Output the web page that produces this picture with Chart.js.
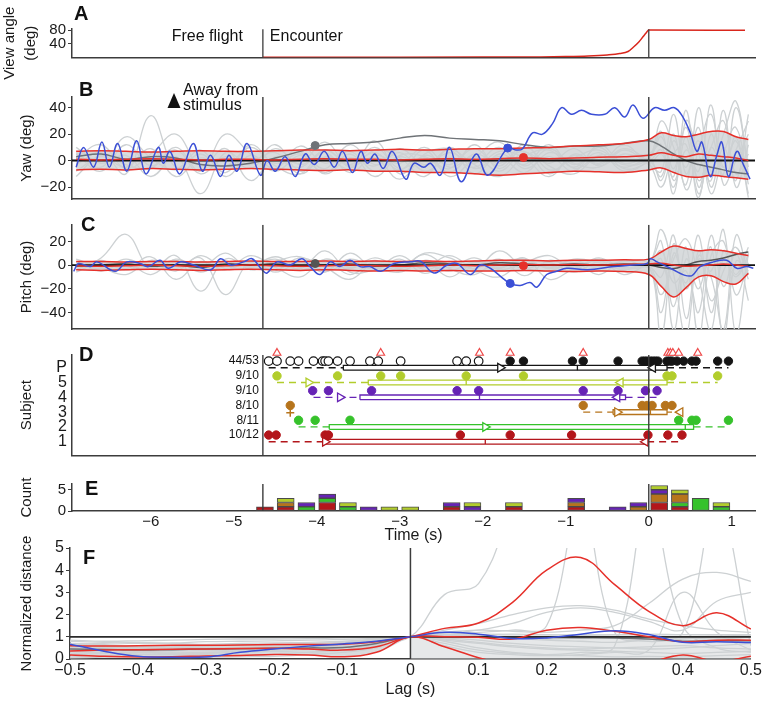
<!DOCTYPE html>
<html>
<head>
<meta charset="utf-8">
<title>Yaw and pitch around the encounter</title>
<script src="https://cdn.jsdelivr.net/npm/chart.js@4.4.1/dist/chart.umd.min.js"></script>
<style>
  html, body { margin: 0; padding: 0; background: #fff; }
  #fig { position: relative; width: 764px; height: 702px; overflow: hidden; }
  #fig canvas { position: absolute; left: 0; }
</style>
</head>
<body>
<div id="fig">
  <canvas id="panelA" width="764" height="80" style="top:0px"></canvas>
  <canvas id="panelB" width="764" height="135" style="top:75px"></canvas>
  <canvas id="panelC" width="764" height="130" style="top:210px"></canvas>
  <canvas id="panelD" width="764" height="130" style="top:340px"></canvas>
  <canvas id="panelE" width="764" height="75" style="top:470px"></canvas>
  <canvas id="panelF" width="764" height="172" style="top:530px"></canvas>
</div>
<script>
// ---- shared time axis (panels A-E)
var tMin = -6.95, tMax = 1.28;
var encounterT = -4.65;

// ---- A: view angle of the stimulus
var viewT   = [-4.65, -3, -2, -1.3, -1.0, -0.73, -0.5, -0.35, -0.25, -0.18, -0.12, -0.07, -0.03, 0, 1.16];
var viewDeg = [0, 0.3, 0.6, 1, 2, 3.8, 7, 11, 17, 31, 45, 60, 72, 80, 79];

// ---- B/C: common sample times for the gray and summary traces
var gridT = [-6.9,-6.6,-6.3,-6.0,-5.7,-5.4,-5.1,-4.8,-4.5,-4.2,-3.9,-3.6,-3.3,-3.0,-2.7,-2.4,-2.1,-1.8,-1.5,-1.2,-0.9,-0.6,-0.3,0,0.15,0.3,0.45,0.6,0.75,0.9,1.05,1.2];

// B: yaw (deg)
var yawGray1  = [5,-8,12,-4,8,-10,3,-6,9,-3,6,-9,4,-2,10,-5,3,-8,6,-2,9,-4,5,2,18,-6,25,-15,10,30,-10,5];
var yawGray2  = [-3,6,-10,34,-5,8,-12,4,-6,11,-2,7,-8,3,-4,8,-10,5,-3,12,-6,3,-5,0,-12,20,-22,8,35,-5,15,-25];
var yawGray3  = [10,-2,4,-12,3,-25,6,-3,12,-8,2,-6,15,-10,4,-3,9,-4,12,-7,2,8,-3,2,30,10,-18,40,-8,20,45,-10];
var yawGray4  = [null,null,null,null,null,null,null,null,2,-5,8,-3,10,-6,2,-9,5,-2,7,-10,4,-3,9,-2,-20,5,12,-28,20,-12,8,30];
var yawGray5  = [-8,3,-5,9,-12,2,-4,10,-2,5,-10,2,-4,9,-3,6,-2,10,-6,3,-8,12,-2,5,12,-25,30,5,-15,38,-20,12];
var yawGray6  = [2,12,-6,5,20,-4,9,-15,3,-2,14,-5,8,2,-12,10,-6,3,-9,6,-2,-5,8,-3,-8,35,-10,15,-25,5,25,-18];
var yawGray7  = [null,null,null,null,null,null,null,-2,6,-10,3,-3,6,-7,8,-12,2,14,-4,9,-3,6,-8,1,22,-15,8,-8,42,-18,0,20];
var yawGray8  = [-12,4,-3,-6,10,-8,20,5,-8,4,-6,12,-3,6,-8,2,-5,7,2,-12,5,-2,12,-2,5,-12,38,-20,10,-5,18,-28];
var yawGray9  = [null,null,null,null,null,null,null,null,null,7,-9,5,-12,4,3,-6,12,-6,10,-4,-10,4,3,3,-15,15,-5,25,-20,10,-15,35];
var yawGray10 = [6,-5,18,2,-7,5,-9,12,-4,-10,8,-4,2,-14,5,9,-3,-12,3,8,-5,10,-6,-1,8,-20,18,-25,5,-10,40,-5];
var yawRedHi  = [7,7.5,7,6.5,7,7.5,7,7,7.5,8,8,7.5,8,8.5,8,8.5,9,9,9.5,10,11,12,13,16,21,19,18,20,22,22,18,16];
var yawRedMid = [1,0.5,1,1.5,1,0.5,1,1,0.5,1,1.5,1,1,0.5,1,1.5,1,1.5,2,1.5,2,2.5,3,4,6,4,3,5,4,3,2,0];
var yawRedLo  = [-7,-6.5,-7,-6,-6.5,-7,-6.5,-6,-6.5,-7,-7.5,-7,-8,-8,-9,-9,-10,-11,-10,-9,-8,-8.5,-9,-7,-5.5,-9,-12,-12.5,-11,-12,-13,-14];
var yawDark   = [3,5,1,3,2,-3,-4,-2,2,7,12,13,14,17,19,17,16,15,12,10,11,11,13,15,11,5,0,-3,-5,-7,-9,-10];
var yawBlueT  = [-6.9,-6.81,-6.69,-6.59,-6.5,-6.4,-6.29,-6.17,-6.06,-5.91,-5.85,-5.77,-5.65,-5.49,-5.38,-5.28,-5.16,-5.06,-4.96,-4.84,-4.68,-4.6,-4.5,-4.38,-4.26,-4.14,-4.03,-3.91,-3.79,-3.69,-3.57,-3.47,-3.39,-3.3,
                 -3.2,-3.09,-2.93,-2.83,-2.71,-2.63,-2.51,-2.4,-2.26,-2.08,-1.94,-1.7,-1.6,-1.52,-1.4,-1.28,-1.16,-1.05,-0.93,-0.81,-0.69,-0.53,-0.41,-0.29,-0.19,-0.07,
                 0.07,0.19,0.31,0.41,0.5,0.58,0.64,0.74,0.82,0.88,0.96,1.06,1.14,1.22];
var yawBlue   = [-5,10,-5,14,-5,13,-8,15,-10,10,-2,7,-10,13,-8,4,-12,4,-8,13,-11,0,-8,3,-12,5,-3,7,-5,7,-9,7,-2,5,
                 -6,7,-14,-2,-5,-2,-11,10,-16,5,-11,9.5,8,9,21,20,28,40,35,38,35,35,40,33,42,32,
                 40,38,40,33,21,7,14,-12,4,14,-12,7,-3,-14];
var yawMarkT  = [-4.02, -1.70, -1.51];
var yawMarkV  = [11.4, 9.5, 2.4];

// C: pitch (deg)
var pitchGray1 = [2,-3,5,-2,4,-6,3,-1,5,-4,2,-3,6,-2,1,-5,3,-2,4,-3,2,-1,3,0,-60,10,-15,25,-40,5,-10,8];
var pitchGray2 = [-4,6,26,-3,8,-22,5,-2,3,7,-5,2,-3,8,-4,3,-6,2,5,-2,4,-3,1,2,20,-55,5,-20,15,-60,3,-5];
var pitchGray3 = [5,-2,-8,4,-3,6,-25,3,-6,2,-4,5,-2,-6,4,-2,6,-4,2,8,-3,5,-2,-1,-10,25,-45,8,-5,30,-58,10];
var pitchGray4 = [null,null,null,null,null,null,null,-3,7,-2,4,-8,3,-2,9,-3,-8,4,-3,2,-6,3,-2,1,30,-8,-60,12,-30,-5,15,-12];
var pitchGray5 = [-2,4,-3,7,-12,3,-4,8,-2,-10,5,-2,4,-3,10,6,-3,12,-2,-5,2,-8,4,-2,5,-35,15,-60,8,20,-25,2];
var pitchGray6 = [3,-5,2,-8,5,-2,10,-4,2,-3,12,-6,-4,3,-2,8,-4,-10,3,-2,5,2,-4,0,-25,5,22,-10,-55,12,-8,15];
var pitchGray7 = [null,null,null,null,null,null,null,null,-5,3,-6,10,-3,5,-7,2,-3,5,-9,4,-2,6,-3,1,12,-15,-5,-40,25,-18,10,-30];
var pitchGray8 = [-6,2,-4,3,-5,8,-3,2,-4,6,-2,-12,2,-5,3,-10,2,-3,6,-12,-3,4,-8,-2,-40,18,-20,5,-10,-55,25,-8];
var pitchRedHi  = [3,3,2.5,3,3,2.5,3,3.5,3,3,3.5,3,3.5,3,3.5,3,3.5,4,4,3.5,4,4,4.5,5,11,16,14,12,13,12,10,8];
var pitchRedMid = [-0.5,-1,-0.5,0,-0.5,-1,-0.5,0,-0.5,-1,-0.5,0,-0.5,-1,-0.5,0,-0.5,0,0.5,0,0.5,0,0.5,1,1.5,0,-1,-0.5,0,1,0,-1];
var pitchRedLo  = [-4,-4.5,-4,-3.5,-4,-4.5,-4,-3.5,-4,-4.5,-4,-4.5,-5,-4.5,-5,-4.5,-5,-5,-4.5,-5,-5.5,-5,-5.5,-8,-18,-27,-19,-10,-9,-14,-16,-7];
var pitchDark   = [-1,0,1,-1,0,-2,1,0,1,-1,0,1,-1,0,2,1,0,2,1,0,1,0,1,0,-2,-3,0,3,4,6,9,11];
var pitchBlueT  = [-6.93,-6.87,-6.73,-6.65,-6.43,-6.29,-6.13,-6.03,-5.89,-5.79,-5.64,-5.48,-5.28,-5.16,-5.04,-4.88,-4.78,-4.66,-4.6,-4.48,-4.32,-4.18,-4.08,-3.96,-3.84,-3.72,-3.6,-3.48,-3.36,
                   -3.23,-3.07,-2.87,-2.75,-2.59,-2.43,-2.31,-2.15,-2.03,-1.91,-1.79,-1.67,-1.55,-1.43,-1.35,-1.23,-1.11,-0.99,-0.74,-0.42,-0.18,-0.02,
                   0.02,0.1,0.26,0.5,0.62,0.78,0.94,1.06,1.18,1.26];
var pitchBlue   = [-5.3,1.3,-1.3,2.7,-5.3,2.7,1.3,-1.3,4,-2.7,2.7,0,-4,5.3,0,2.7,5.3,-4,-6.7,2.7,0,5.3,-1.3,-8,2.7,-1.3,4,-1.3,-1.3,
                   -5.3,1.3,2.7,3.2,-6.7,0,1.3,-8,0,-2.7,-9.3,-15.5,-17.3,-14.7,-18.7,-8,-5.3,-2.7,-4,-1.3,0,1.3,
                   5.3,2.7,-2.7,-9.3,-1.3,2.7,4,-2.7,-1.3,-2.7];
var pitchMarkT = [-4.02, -1.67, -1.51];
var pitchMarkV = [1.3, -15.5, -0.5];

// ---- D: response times per subject (s), box = [low, q1, median, q3, high]
var rowNames  = ['1', '2', '3', '4', '5', 'P'];
var rowCounts = ['10/12', '8/11', '8/10', '9/10', '9/10', '44/53'];
var s1Events = [-4.58,-4.49,-3.90,-3.86,-2.27,-1.67,-0.93,-0.01,0.23,0.40];
var s1Box    = [-4.58,-3.90,-1.97,-0.02,0.40];
var s1Means  = [-3.90,-0.04];
var s2Events = [-4.22,-4.02,-3.60,0.36,0.52,0.57,0.96];
var s2Box    = [-4.22,-3.85,0.44,0.54,0.96];
var s2Means  = [-1.97,null];
var s3Events = [-4.32,-0.79,-0.08,-0.02,0.04,0.20,0.28];
var s3Box    = [-0.79,-0.43,0.02,0.22,0.28];
var s3Means  = [-0.38,0.38];
var s3Outlier = [-4.32];
var s4Events = [-4.05,-3.86,-3.34,-2.31,-2.05,-0.79,-0.37,-0.04,0.10];
var s4Box    = [-4.04,-3.48,-2.04,-0.28,0.10];
var s4Means  = [-3.72,-0.38];
var s5Events = [-4.48,-3.75,-3.23,-2.99,-2.20,-1.51,0.22,0.28,0.83];
var s5Box    = [-4.48,-3.38,-2.20,0.22,0.83];
var s5Means  = [-4.10,-0.34];
var pOpen    = [-4.58,-4.48,-4.32,-4.22,-4.04,-3.93,-3.90,-3.86,-3.75,-3.60,-3.36,-3.26,-2.99,-2.31,-2.20,-2.05];
var pFilled  = [-1.67,-1.51,-0.92,-0.79,-0.37,-0.08,-0.05,-0.02,0.02,0.05,0.08,0.11,0.22,0.25,0.28,0.34,0.42,0.52,0.57,0.83,0.96];
var pBox     = [-4.58,-3.68,-0.86,0.22,0.96];
var pMeans   = [-1.79,0.05];
var pFlags   = [-4.48,-3.23,-2.04,-1.67,-0.79,0.23,0.26,0.29,0.36,0.59];

// ---- E: histogram of response times, 0.25 s bins
var histBins = [-4.625,-4.375,-4.125,-3.875,-3.625,-3.375,-3.125,-2.875,-2.375,-2.125,-1.625,-0.875,-0.375,-0.125,0.125,0.375,0.625,0.875];
var histS1 = [1,1,0,2,0,0,0,0,1,0,1,1,0,0,2,1,0,0];
var histS2 = [0,0,1,1,1,0,0,0,0,0,0,0,0,0,0,1,3,1];
var histS3 = [0,1,0,0,0,0,0,0,0,0,0,1,0,1,2,2,0,0];
var histS4 = [0,0,1,1,0,1,0,0,1,1,0,1,1,1,1,0,0,0];
var histS5 = [0,1,0,0,1,0,1,1,0,1,1,0,0,0,1,1,0,1];
var timeTicks = [-6,-5,-4,-3,-2,-1,0,1];

// ---- F: normalized distance vs lag
var lagT = [-0.5,-0.45,-0.4,-0.35,-0.3,-0.25,-0.2,-0.15,-0.1,-0.05,0,0.05,0.1,0.15,0.2,0.25,0.3,0.35,0.4,0.45,0.5];
var lagTicks = [-0.5,-0.4,-0.3,-0.2,-0.1,0,0.1,0.2,0.3,0.4,0.5];
var distGray1  = [0.8,0.75,0.7,0.72,0.78,0.8,0.82,0.85,0.88,0.93,1,1.05,1.1,1.12,1.1,1.08,1.1,1.12,1.1,1.1,1.08];
var distGray2  = [0.55,0.6,0.58,0.55,0.6,0.62,0.65,0.7,0.75,0.85,1,2.9,3.4,7,null,null,null,null,null,null,null];
var distGray3  = [0.1,0.15,0.2,0.25,0.2,0.15,0.2,0.3,0.4,0.6,1,0.8,0.5,0.3,0.2,0.15,0.1,0.12,0.1,0.15,0.2];
var distGray4  = [0.6,0.55,0.5,0.55,0.6,0.65,0.6,0.62,0.7,0.85,1,1.3,1.6,2.0,2.3,2.4,2.2,1.8,1.5,1.3,1.2];
var distGray5  = [0.4,0.45,0.5,0.45,0.4,0.42,0.48,0.55,0.65,0.8,1,0.9,0.75,0.6,0.5,0.45,0.5,0.55,0.6,0.5,0.45];
var distGray6  = [0.2,0.25,0.3,0.28,0.3,0.35,0.4,0.45,0.5,0.7,1,1.1,1.2,1.3,1.5,7,1.2,0.8,0.9,1.0,1.1];
var distGray7  = [0.7,0.65,0.6,0.62,0.66,0.7,0.72,0.75,0.8,0.9,1,0.85,0.7,0.55,0.45,0.4,0.35,0.3,0.25,0.3,0.35];
var distGray8  = [0.5,0.48,0.45,0.5,0.55,0.5,0.52,0.6,0.68,0.82,1,1.2,1.3,1.25,1.2,1.3,1.5,2.5,3.6,3.9,3.5];
var distGray9  = [0.85,0.8,0.82,0.85,0.88,0.9,0.9,0.92,0.95,0.97,1,0.95,0.85,0.7,0.6,0.55,0.5,0.45,0.5,0.6,0.7];
var distGray10 = [0.25,0.3,0.22,0.2,0.25,0.3,0.35,0.3,0.4,0.65,1,0.7,0.4,0.25,0.2,0.3,0.6,7,1.5,0.5,0.3];
var distGray11 = [0.65,0.7,0.75,0.7,0.65,0.6,0.62,0.68,0.75,0.88,1,1.15,1.3,1.6,2.1,2.3,2.1,1.7,1.3,2.6,3.0];
var distGray12 = [0.35,0.3,0.32,0.38,0.42,0.45,0.5,0.55,0.62,0.78,1,1.05,1.0,0.95,0.9,0.95,1.0,0.98,0.95,0.9,1.0];
var distGray13 = [0.45,0.5,0.52,0.5,0.48,0.5,0.55,0.6,0.7,0.85,1,1.1,1.05,0.95,0.85,0.8,0.75,0.9,1.2,7,0.6];
var distGray14 = [0.05,0.08,0.12,0.1,0.08,0.1,0.12,0.2,0.3,0.5,1,0.6,0.3,0.2,0.15,0.2,0.3,0.4,3,1.2,0.4];
var distRedHi  = [0.6,0.58,0.6,0.62,0.62,0.63,0.65,0.65,0.67,0.78,1,1.38,1.62,2.55,4.0,4.57,3.35,2.15,1.5,2.08,1.35];
var distRedMid = [0.36,0.4,0.42,0.44,0.45,0.47,0.48,0.45,0.4,0.55,1,1.0,0.98,0.9,1.3,1.42,1.25,1.0,0.78,0.85,0.85];
var distRedLo  = [0.18,0.12,0.09,0.1,0.14,0.16,0.2,0.18,0.1,0.3,1,0.55,0.06,-0.3,-0.6,-0.8,-0.7,-0.2,0.18,-0.1,0.12];
var distBlue   = [0.67,0.35,0.12,0.08,0.09,0.3,0.45,0.58,0.68,0.8,1,1.2,1.12,0.92,0.95,1.12,1.27,1.1,0.75,0.78,0.74];
var distDark   = [0.45,0.43,0.4,0.42,0.45,0.46,0.48,0.5,0.52,0.7,1,1.0,1.0,0.98,0.97,0.96,0.95,0.9,0.8,0.82,0.82];
var distDenseTop = [1,1.12,1.15,1.12,1.1,1.12,1.12,1.1,1.05,1.08,1.05];

// ---- styling
var FONT = '"Liberation Sans", Arial, sans-serif';
var AXIS = '#3c3c3c', GRAY = '#cdd1d3', DARK = '#6f7377', RED = '#e6302a', BLUE = '#3b4fd6';
var SUBJ = ['#b3161b', '#36c22b', '#b6741c', '#6623b5', '#b2cd2c', '#151515'];
Chart.defaults.font.family = FONT;
Chart.defaults.font.size = 15;
Chart.defaults.color = '#1a1a1a';

function pts(xs, ys) { return xs.map(function(x, i) { return {x: x, y: ys[i]}; }); }
function minus(v) { return String(v).replace('-', '\u2212'); }

function trace(data, color, width, extra) {
  return Object.assign({type: 'line', data: data, borderColor: color, borderWidth: width, pointRadius: 0,
    tension: 0.4, fill: false}, extra || {});
}
function marker(data, color, radius, extra) {
  return Object.assign({type: 'line', data: data, showLine: false, pointRadius: radius, pointBackgroundColor: color,
    pointBorderColor: color, pointBorderWidth: 1, borderColor: color, backgroundColor: color}, extra || {});
}
function vline(x, y0, y1, color, width) {
  return trace([{x: x, y: y0}, {x: x, y: y1}], color, width, {tension: 0});
}
function band(data, color) {
  return trace(data, 'rgba(0,0,0,0)', 0, {backgroundColor: color});
}

function baseOptions(padding, scales) {
  return {
    responsive: false, animation: false, devicePixelRatio: 1, events: [],
    layout: {padding: padding},
    plugins: {legend: {display: false}, tooltip: {enabled: false}},
    scales: scales
  };
}
function timeAxis() {
  return {
    type: 'linear', min: tMin, max: tMax,
    grid: {display: false, drawTicks: false},
    border: {display: true, color: AXIS, width: 1.5},
    ticks: {display: false},
    afterFit: function(s) { s.height = 0; }
  };
}
function valueAxis(min, max, tickValues, title, o) {
  o = o || {};
  var marks = o.marks !== false;
  return {
    type: 'linear', min: min, max: max, stacked: !!o.stacked,
    afterBuildTicks: function(s) { s.ticks = tickValues.map(function(v) { return {value: v}; }); },
    afterFit: function(s) { s.width = o.width || 72; },
    grid: {display: marks, drawOnChartArea: false, drawTicks: marks, tickLength: 4, color: AXIS, lineWidth: 1},
    border: {display: true, color: AXIS, width: 1.5},
    ticks: {padding: o.tickPad || 2, font: {size: o.tickSize || 15}, callback: o.callback || minus, autoSkip: false},
    title: {display: true, text: title, padding: {top: o.titlePad !== undefined ? o.titlePad : 18, bottom: 0},
      font: {size: 15, lineHeight: o.lh || 1.2}}
  };
}
function annotate(draw) {
  return {id: 'annotate', afterDraw: function(chart) { var ctx = chart.ctx; ctx.save(); draw(chart, ctx); ctx.restore(); }};
}
function say(ctx, str, x, y, size, opt) {
  opt = opt || {};
  ctx.font = (opt.bold ? 'bold ' : '') + size + 'px ' + FONT;
  ctx.fillStyle = opt.color || '#111';
  ctx.textAlign = opt.align || 'left';
  ctx.textBaseline = 'middle';
  ctx.fillText(str, x, y);
}

// ---- Panel A
new Chart(document.getElementById('panelA'), {
  type: 'line',
  data: {datasets: [
    vline(encounterT, 0, 82, AXIS, 1.3),
    vline(0, 0, 82, AXIS, 1.3),
    trace(pts(viewT, viewDeg), '#d9261c', 1.5, {cubicInterpolationMode: 'monotone'})
  ]},
  options: baseOptions({top: 29, bottom: 22.7, left: 0, right: 9}, {
    x: timeAxis(),
    y: valueAxis(0, 83, [40, 80], ['View angle', '(deg)'], {titlePad: 0, lh: 1.35})
  }),
  plugins: [annotate(function(chart, ctx) {
    var xe = chart.scales.x.getPixelForValue(encounterT);
    say(ctx, 'A', 74, 14, 20, {bold: true});
    say(ctx, 'Free flight', xe - 20, 37, 16, {align: 'right'});
    say(ctx, 'Encounter', xe + 7, 37, 16);
  })]
});

// ---- Panel B
var bSets = [
  marker([{x: yawMarkT[0], y: yawMarkV[0]}], DARK, 4),
  marker([{x: yawMarkT[1], y: yawMarkV[1]}], BLUE, 4),
  marker([{x: yawMarkT[2], y: yawMarkV[2]}], RED, 4),
  vline(encounterT, -29, 48, AXIS, 1.4),
  vline(0, -29, 48, AXIS, 1.4),
  trace(pts(yawBlueT, yawBlue), BLUE, 1.5),
  trace(pts(gridT, yawRedHi), RED, 1.5),
  trace(pts(gridT, yawRedMid), RED, 1.5),
  trace(pts(gridT, yawRedLo), RED, 1.5),
  trace([{x: tMin, y: 0}, {x: tMax, y: 0}], '#111', 2, {tension: 0}),
  trace(pts(gridT, yawDark), DARK, 1.5)
].concat([yawGray1, yawGray2, yawGray3, yawGray4, yawGray5, yawGray6, yawGray7, yawGray8, yawGray9, yawGray10]
  .map(function(g) { return trace(pts(gridT, g), GRAY, 1.3); }));
bSets.push(band(pts(gridT, yawRedHi), 'rgba(206,210,212,0.8)'));
bSets.push(band(pts(gridT, yawRedLo), 'rgba(0,0,0,0)'));
bSets[bSets.length - 2].fill = {target: bSets.length - 1};

new Chart(document.getElementById('panelB'), {
  type: 'line',
  data: {datasets: bSets},
  options: baseOptions({top: 22.1, bottom: 5.1, left: 0, right: 9}, {
    x: timeAxis(),
    y: valueAxis(-29, 48, [-20, 0, 20, 40], 'Yaw (deg)')
  }),
  plugins: [annotate(function(chart, ctx) {
    say(ctx, 'B', 79, 15, 20, {bold: true});
    ctx.fillStyle = '#111';
    ctx.beginPath(); ctx.moveTo(174, 18); ctx.lineTo(180.5, 33); ctx.lineTo(167.5, 33); ctx.closePath(); ctx.fill();
    say(ctx, 'Away from', 183, 16, 16);
    say(ctx, 'stimulus', 183, 31, 16);
  })]
});

// ---- Panel C
var cSets = [
  marker([{x: pitchMarkT[0], y: pitchMarkV[0]}], '#555', 4),
  marker([{x: pitchMarkT[1], y: pitchMarkV[1]}], BLUE, 4),
  marker([{x: pitchMarkT[2], y: pitchMarkV[2]}], RED, 4),
  vline(encounterT, -54, 34, AXIS, 1.4),
  vline(0, -54, 34, AXIS, 1.4),
  trace(pts(pitchBlueT, pitchBlue), BLUE, 1.5),
  trace(pts(gridT, pitchRedHi), RED, 1.5),
  trace(pts(gridT, pitchRedMid), RED, 1.5),
  trace(pts(gridT, pitchRedLo), RED, 1.5),
  trace([{x: tMin, y: 0}, {x: tMax, y: 0}], '#111', 1.8, {tension: 0}),
  trace(pts(gridT, pitchDark), '#555', 1.5)
].concat([pitchGray1, pitchGray2, pitchGray3, pitchGray4, pitchGray5, pitchGray6, pitchGray7, pitchGray8]
  .map(function(g) { return trace(pts(gridT, g), GRAY, 1.3); }));
cSets.push(band(pts(gridT, pitchRedHi), 'rgba(206,210,212,0.8)'));
cSets.push(band(pts(gridT, pitchRedLo), 'rgba(0,0,0,0)'));
cSets[cSets.length - 2].fill = {target: cSets.length - 1};

new Chart(document.getElementById('panelC'), {
  type: 'line',
  data: {datasets: cSets},
  options: baseOptions({top: 14.8, bottom: 5.2, left: 0, right: 9}, {
    x: timeAxis(),
    y: valueAxis(-54, 34, [-40, -20, 0, 20], 'Pitch (deg)')
  }),
  plugins: [annotate(function(chart, ctx) { say(ctx, 'C', 81, 15, 20, {bold: true}); })]
});

// ---- Panel D
function boxRow(row, color, events, box, means, hollow) {
  var lo = box[0], q1 = box[1], med = box[2], q3 = box[3], hi = box[4], h = 0.16;
  var sets = [];
  if (means[0] !== null) sets.push(marker([{x: means[0], y: row}], '#fff', 5, {pointStyle: 'triangle', pointRotation: 90, pointBorderColor: color, pointBorderWidth: 1.3}));
  if (means[1] !== null) sets.push(marker([{x: means[1], y: row}], '#fff', 5, {pointStyle: 'triangle', pointRotation: -90, pointBorderColor: color, pointBorderWidth: 1.3}));
  sets.push(marker(events.map(function(t) { return {x: t, y: row + 0.45}; }), color, 4.2));
  sets.push(trace([{x: med, y: row - h}, {x: med, y: row + h}], color, 1.3, {tension: 0}));
  sets.push(trace([{x: q1, y: row - h}, {x: q3, y: row - h}, {x: q3, y: row + h}, {x: q1, y: row + h}, {x: q1, y: row - h}], color, 1.3, {tension: 0}));
  sets.push(trace([{x: lo, y: row}, {x: q1, y: row}], color, 1.4, {tension: 0, borderDash: [7, 5]}));
  sets.push(trace([{x: q3, y: row}, {x: hi, y: row}], color, 1.4, {tension: 0, borderDash: [7, 5]}));
  return sets;
}
var dSets = [
  marker(pFlags.map(function(t) { return {x: t, y: 7.0}; }), '#fff', 4.5, {pointStyle: 'triangle', pointBorderColor: '#ee4a4a', pointBorderWidth: 1.2, clip: false}),
  marker(pOpen.map(function(t) { return {x: t, y: 6.45}; }), '#fff', 4.3, {pointBorderColor: '#151515', pointBorderWidth: 1.2}),
  marker(s3Outlier.map(function(t) { return {x: t, y: 2.95}; }), SUBJ[2], 4, {pointStyle: 'cross', pointBorderWidth: 1.5}),
  vline(encounterT, 0.074, 6.864, AXIS, 1.4),
  vline(0, 0.074, 6.864, AXIS, 1.4)
].concat(
  boxRow(6, SUBJ[5], pFilled, pBox, pMeans),
  boxRow(5, SUBJ[4], s5Events, s5Box, s5Means),
  boxRow(4, SUBJ[3], s4Events, s4Box, s4Means),
  boxRow(3, SUBJ[2], s3Events.slice(1), s3Box, s3Means),
  boxRow(2, SUBJ[1], s2Events, s2Box, s2Means),
  boxRow(1, SUBJ[0], s1Events, s1Box, s1Means)
);
dSets.push(marker([{x: s3Events[0], y: 3.45}], SUBJ[2], 4.2));

new Chart(document.getElementById('panelD'), {
  type: 'line',
  data: {datasets: dSets},
  options: baseOptions({top: 15, bottom: 5, left: 0, right: 9}, {
    x: timeAxis(),
    y: valueAxis(0.074, 6.864, [1, 2, 3, 4, 5, 6], 'Subject', {marks: false, tickPad: 5, tickSize: 16,
      callback: function(v) { return rowNames[v - 1]; }})
  }),
  plugins: [annotate(function(chart, ctx) {
    var xe = chart.scales.x.getPixelForValue(encounterT);
    say(ctx, 'D', 79, 15, 20, {bold: true});
    rowCounts.forEach(function(c, i) {
      say(ctx, c, xe - 4, chart.scales.y.getPixelForValue(i + 1.45), 12, {align: 'right'});
    });
  })]
});

// ---- Panel E
function histSet(counts, color) {
  return {
    type: 'bar',
    data: pts(histBins, counts).filter(function(p) { return p.y > 0; }),
    backgroundColor: color, borderColor: '#4a4a4a', borderWidth: 1, borderSkipped: false,
    barThickness: 17
  };
}
var eLineA = vline(encounterT, 0, 6.35, AXIS, 1.4); eLineA.stack = 'enc'; eLineA.order = -1;
var eLineB = vline(0, 0, 6.35, AXIS, 1.4); eLineB.stack = 'zero'; eLineB.order = -1;
new Chart(document.getElementById('panelE'), {
  type: 'bar',
  data: {datasets: [
    histSet(histS1, SUBJ[0]), histSet(histS2, SUBJ[1]), histSet(histS3, SUBJ[2]),
    histSet(histS4, SUBJ[3]), histSet(histS5, SUBJ[4]), eLineA, eLineB
  ]},
  options: baseOptions({top: 14, bottom: 0, left: 0, right: 9}, {
    x: {
      type: 'linear', min: tMin, max: tMax, offset: false, stacked: true,
      afterBuildTicks: function(s) { s.ticks = timeTicks.map(function(v) { return {value: v}; }); },
      afterFit: function(s) { s.height = 34; },
      grid: {display: false, drawTicks: false, offset: false},
      border: {display: true, color: AXIS, width: 1.5},
      ticks: {padding: 2, callback: minus, autoSkip: false, maxRotation: 0, font: {size: 15}},
      title: {display: true, text: 'Time (s)', padding: {top: 0, bottom: 0}, font: {size: 16}}
    },
    y: valueAxis(0, 6.35, [0, 5], 'Count', {stacked: true})
  }),
  plugins: [annotate(function(chart, ctx) { say(ctx, 'E', 85, 19, 20, {bold: true}); })]
});

// ---- Panel F
var fSets = [
  vline(0, 0, 5, AXIS, 1.5),
  trace(pts(lagT, distBlue), BLUE, 1.5),
  trace(pts(lagT, distRedHi), RED, 1.5),
  trace(pts(lagT, distRedMid), RED, 1.5),
  trace(pts(lagT, distRedLo), RED, 1.5),
  trace([{x: -0.5, y: 1}, {x: 0.5, y: 1}], '#2a2a2a', 1.8, {tension: 0}),
  trace(pts(lagT, distDark), DARK, 1.5)
].concat([distGray1, distGray2, distGray3, distGray4, distGray5, distGray6, distGray7, distGray8, distGray9,
  distGray10, distGray11, distGray12, distGray13, distGray14]
  .map(function(g) { return trace(pts(lagT, g), GRAY, 1.3); }));
var dense = band(pts(lagT.slice(10), distDenseTop), 'rgba(206,210,212,0.5)'); dense.fill = 'origin';
fSets.push(dense);
fSets.push(band(pts(lagT.slice(0, 11), distRedHi.slice(0, 11)), 'rgba(206,210,212,0.8)'));
fSets.push(band(pts(lagT.slice(0, 11), distRedLo.slice(0, 11)), 'rgba(0,0,0,0)'));
fSets[fSets.length - 2].fill = {target: fSets.length - 1};

new Chart(document.getElementById('panelF'), {
  type: 'line',
  data: {datasets: fSets},
  options: baseOptions({top: 18, bottom: 0, left: 0, right: 11}, {
    x: {
      type: 'linear', min: -0.5, max: 0.5,
      afterBuildTicks: function(s) { s.ticks = lagTicks.map(function(v) { return {value: v}; }); },
      afterFit: function(s) { s.height = 43; },
      grid: {display: false, drawTicks: false},
      border: {display: true, color: AXIS, width: 1.5},
      ticks: {padding: 2, callback: minus, autoSkip: false, maxRotation: 0, font: {size: 16}},
      title: {display: true, text: 'Lag (s)', padding: {top: 0, bottom: 3}, font: {size: 16}}
    },
    y: valueAxis(0, 5, [0, 1, 2, 3, 4, 5], 'Normalized distance', {width: 70, tickSize: 16})
  }),
  plugins: [annotate(function(chart, ctx) { say(ctx, 'F', 83, 28, 20, {bold: true}); })]
});
</script>
</body>
</html>
